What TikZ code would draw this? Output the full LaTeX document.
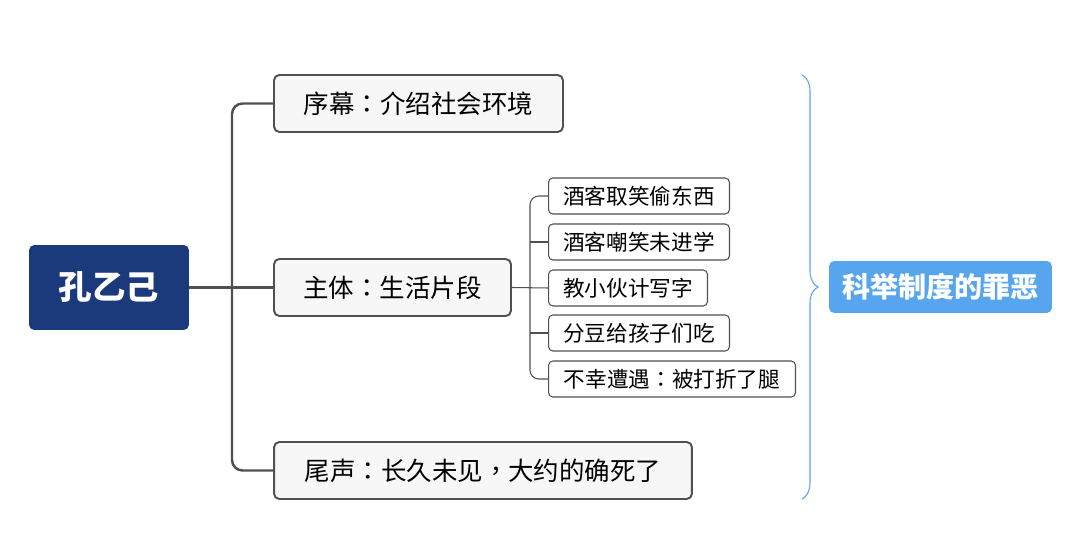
\documentclass[tikz,border=0pt]{standalone}
\usepackage{fontspec}
\usepackage{xcolor}
\usepackage{tikz}
\usetikzlibrary{calc}
\usetikzlibrary{positioning, decorations.pathreplacing}
\newfontfamily\cjk{Noto Sans CJK SC}
\newfontfamily\cjktc{Noto Sans CJK TC}
\newcommand{\punct}[1]{{\cjktc #1}}
\definecolor{rootblue}{HTML}{1B3A7B}
\definecolor{sumblue}{HTML}{56A5EE}
\definecolor{linegray}{HTML}{505050}
\definecolor{boxfill}{HTML}{F7F7F7}

\begin{document}
\begin{tikzpicture}[x=0.02cm, y=-0.02cm, every node/.style={font=\cjk},
  rootbox/.style={fill=rootblue, text=white, rounded corners=3pt, font=\cjk\bfseries\fontsize{19}{22}\selectfont, minimum width=3.2cm, minimum height=1.7cm},
  topic/.style={draw=linegray, line width=1.1pt, fill=boxfill, rounded corners=3pt, font=\cjk\fontsize{14.5}{17}\selectfont, minimum height=1.14cm},
  subtopic/.style={draw=linegray, line width=0.6pt, fill=white, rounded corners=2.5pt, font=\cjk\fontsize{12.3}{15}\selectfont, minimum height=0.72cm, anchor=west},
  sumbox/.style={fill=sumblue, text=white, rounded corners=3pt, font=\cjk\bfseries\fontsize{16}{19}\selectfont, minimum width=4.46cm, minimum height=1.04cm},
  link/.style={draw=linegray, line width=1.4pt, rounded corners=6pt},
  sublink/.style={draw=linegray, line width=0.6pt, rounded corners=5pt}]

\useasboundingbox (0,0) rectangle (1080,533);

% centre and main topics
\node[rootbox] (root) at (109,287.5) {孔乙己};
\node[topic, minimum width=5.78cm] (prologue) at (418.5,103.5) {序幕\punct{：}介绍社会环境};
\node[topic, minimum width=4.74cm] (body) at (392.5,287.5) {主体\punct{：}生活片段};
\node[topic, minimum width=8.36cm] (epilogue) at (483,470.5) {尾声\punct{：}长久未见\punct{，}大约的确死了};

\coordinate (trunk) at (232,287.5);
\draw[link] (root) -- (body);
\draw[link] (prologue.west) -- (prologue.west -| trunk) -- (epilogue.west -| trunk) -- (epilogue.west);

% episodes
\foreach \name/\y/\w/\txt in {steal/196/3.62/酒客取笑偷东西, mock/242/3.62/酒客嘲笑未进学,
  teach/288/3.18/教小伙计写字, beans/333/3.62/分豆给孩子们吃, leg/379/4.94/不幸遭遇\punct{：}被打折了腿} {
  \node[subtopic, minimum width=\w cm] (\name) at (548,\y) {\txt};
}

\coordinate (subtrunk) at (530,288);
\draw[sublink] (body.east) -- (teach.west);
\draw[sublink] (steal.west) -- (steal.west -| subtrunk) -- (leg.west -| subtrunk) -- (leg.west);
\foreach \name in {mock, beans} {
  \draw[sublink] (\name.west -| subtrunk) -- (\name.west);
}

% summary
\coordinate (braceTop) at (802,75);
\coordinate (braceBot) at (802,499);
\draw[sumblue, line width=0.6pt, decorate, decoration={brace, amplitude=0.32cm}] (braceTop) -- (braceBot);
\node[sumbox] (summary) at (940.5,287) {科举制度的罪恶};

\end{tikzpicture}
\end{document}
